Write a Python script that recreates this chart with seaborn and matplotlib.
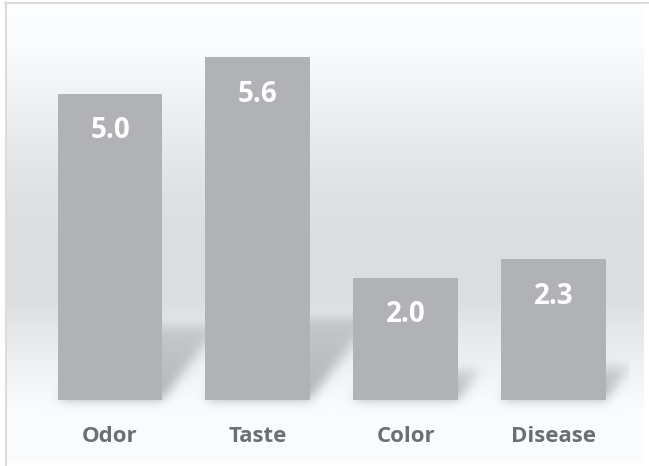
import numpy as np
import pandas as pd
import matplotlib
matplotlib.use("Agg")
import matplotlib.pyplot as plt
from matplotlib.lines import Line2D
import seaborn as sns

# Data
categories = ["Odor", "Taste", "Color", "Disease"]
scores = [5.0, 5.6, 2.0, 2.3]

df = pd.DataFrame({"category": categories, "score": scores})

W, H, DPI = 649, 466, 100
sns.set_theme(style="white")
plt.rcParams["font.family"] = ["Open Sans", "DejaVu Sans"]

fig = plt.figure(figsize=(W / DPI, H / DPI), dpi=DPI)
fig.patch.set_facecolor("white")

# Axes box in pixels (left, top, right, bottom from the figure's top-left)
AX_L, AX_T, AX_R, AX_B = 6, 3, 644, 463
ax = fig.add_axes([AX_L / W, (H - AX_B) / H, (AX_R - AX_L) / W, (AX_B - AX_T) / H])

# Scales: pixels per category step and per score unit
PX_X = 147.8
PX_Y = 61.2
BASE_PX = 400          # baseline row (from top)
FIRST_PX = 110         # centre of the first bar (from left)
BAR_W = 0.71

x_lo = -(FIRST_PX - AX_L) / PX_X
x_hi = 3 + (AX_R - (FIRST_PX + 3 * PX_X)) / PX_X
y_lo = -(AX_B - BASE_PX) / PX_Y
y_hi = (BASE_PX - AX_T) / PX_Y

# ---- backdrop: soft vertical gradient with perspective shadows behind bars ----
ncols, nrows = AX_R - AX_L, AX_B - AX_T
xs = np.linspace(x_lo, x_hi, ncols)
ys = np.linspace(y_hi, y_lo, nrows)
rows_px = np.linspace(AX_T, AX_B, nrows)

stop_px = [0, 50, 100, 150, 200, 250, 300, 330, 360, 390, 405, 466]
stop_v = [253, 250, 240, 231, 223, 220, 221, 230, 238, 246, 250, 250]
grey = np.interp(rows_px, stop_px, stop_v)
bg = np.repeat(grey[:, None], ncols, axis=1)
rgb = np.stack([bg, bg + 1, bg + 3], axis=-1)
rgb = np.clip(rgb, 0, 255)

XX, YY = np.meshgrid(xs, ys)
shadow = np.zeros_like(XX)
K = 0.24
for i, v in enumerate(df["score"]):
    top = K * v
    skew = 0.75 * top * PX_Y / PX_X
    t = np.clip(YY / top, 0, 1)
    left = i - BAR_W / 2 + skew * t
    right = i + BAR_W / 2 + skew * t
    inside = (YY >= 0) & (YY <= top) & (XX >= left) & (XX <= right)
    fade = 1.0 - 0.5 * t
    shadow = np.maximum(shadow, inside * fade)

# gaussian blur (separable)
sig = 5.5
kx = np.arange(-16, 17)
kern = np.exp(-kx ** 2 / (2 * sig ** 2))
kern /= kern.sum()
shadow = np.apply_along_axis(lambda r: np.convolve(r, kern, mode="same"), 1, shadow)
shadow = np.apply_along_axis(lambda c: np.convolve(c, kern, mode="same"), 0, shadow)
col_px = np.linspace(AX_L, AX_R, ncols)
shadow[:, col_px > 630] = 0

alpha = 0.6 * shadow[..., None]
shade = np.array([130, 131, 135])
rgb = rgb * (1 - alpha) + shade * alpha

ax.imshow(rgb.astype(np.uint8), extent=[x_lo, x_hi, y_lo, y_hi],
          aspect="auto", zorder=0, interpolation="bilinear")

# ---- bars ----
sns.barplot(data=df, x="category", y="score", color="#b1b2b6", saturation=1,
            width=BAR_W, linewidth=0, ax=ax, zorder=2)

for i, v in enumerate(df["score"]):
    ax.text(i, v - 37 / PX_Y, f"{v:.1f}", ha="center", va="center",
            color="white", fontsize=20, fontweight="bold", zorder=3)
    ax.text(i, -37 / PX_Y, df["category"][i], ha="center", va="center",
            color="#6d6e71", fontsize=16, fontweight="bold", zorder=3)

ax.set_xlim(x_lo, x_hi)
ax.set_ylim(y_lo, y_hi)
ax.set_xlabel("")
ax.set_ylabel("")
ax.set_xticks([])
ax.set_yticks([])
for s in ax.spines.values():
    s.set_visible(False)

# outer frame (left and top edges)
fig.add_artist(Line2D([5.5 / W, 5.5 / W], [0, 1 - 2 / H], transform=fig.transFigure,
                      color="#dcdcdc", lw=1.5))
fig.add_artist(Line2D([5 / W, 1], [1 - 2.5 / H, 1 - 2.5 / H], transform=fig.transFigure,
                      color="#dcdcdc", lw=1.5))

fig.savefig("out.png", dpi=DPI)
